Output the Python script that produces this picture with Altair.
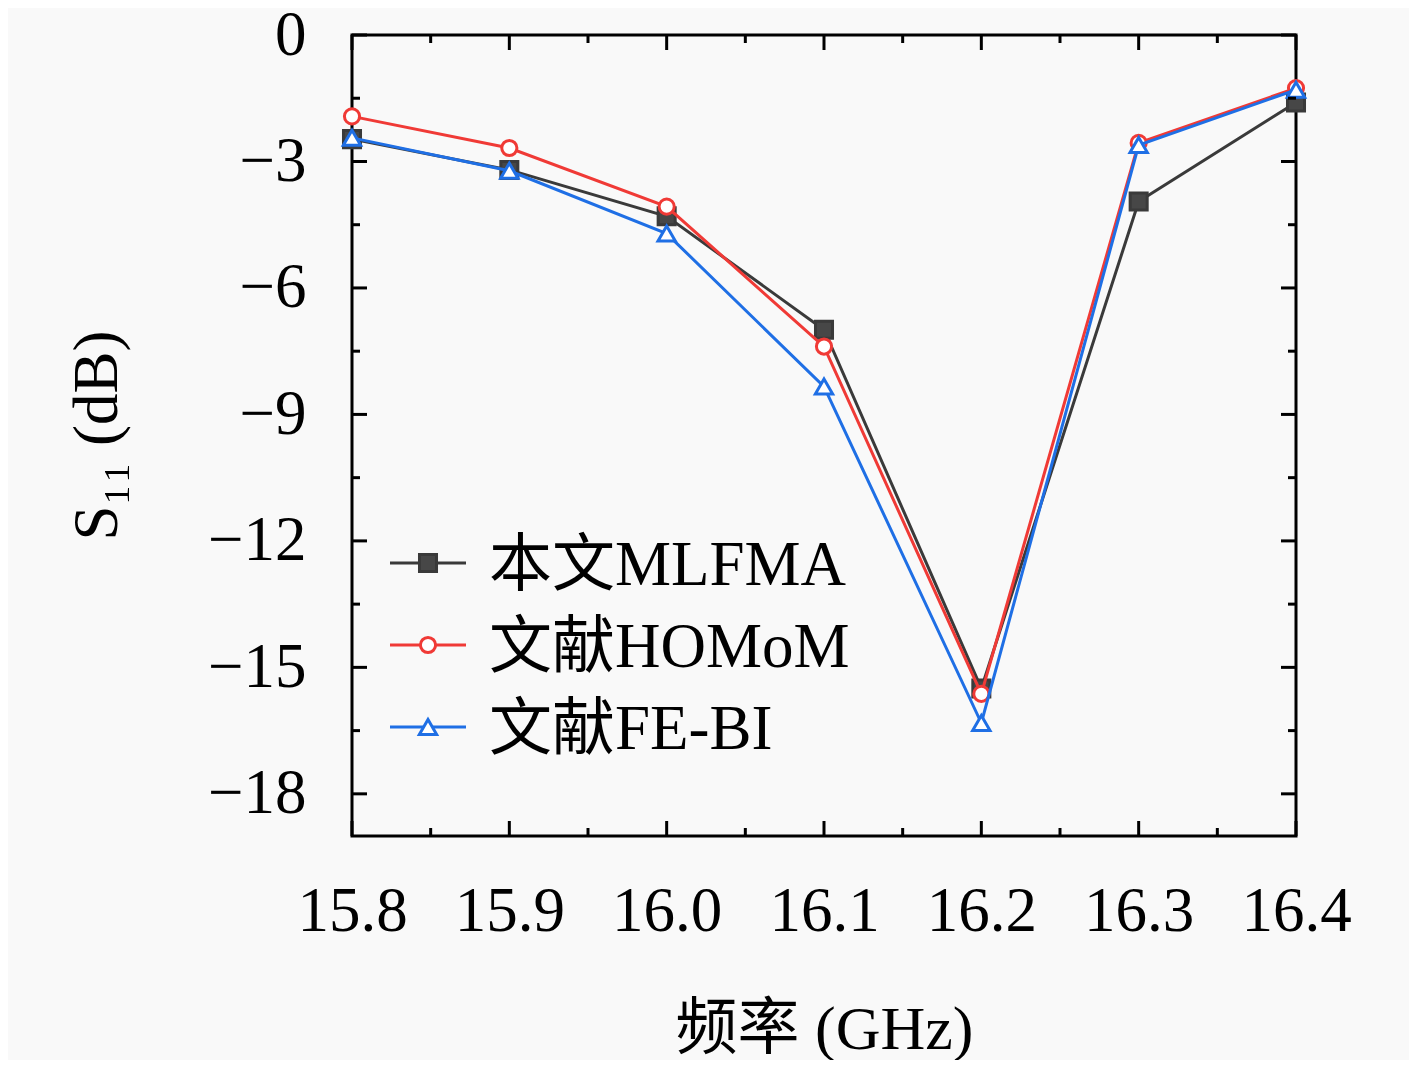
import altair as alt
import pandas as pd

freq = [15.8, 15.9, 16.0, 16.1, 16.2, 16.3, 16.4]
mlfma = [-2.47, -3.2, -4.3, -6.99, -15.5, -3.95, -1.6]
homom = [-1.93, -2.68, -4.07, -7.39, -15.63, -2.56, -1.26]
febi = [-2.44, -3.22, -4.71, -8.34, -16.32, -2.61, -1.3]
names = ["本文MLFMA", "文献HOMoM", "文献FE-BI"]
x_major = [15.8, 15.9, 16.0, 16.1, 16.2, 16.3, 16.4]
x_minor = [15.85, 15.95, 16.05, 16.15, 16.25, 16.35]
y_major = [0, -3, -6, -9, -12, -15, -18]
y_minor = [-1.5, -4.5, -7.5, -10.5, -13.5, -16.5]

W, H = 944, 801
FONT = "Liberation Serif, Noto Sans CJK SC"
colors = ["#3a3a3a", "#f03a36", "#1f6fe5"]
fills = ["#474747", "white", "white"]
shapes = ["square", "circle", "triangle-up"]
sizes = [290, 230, 300]

xs = alt.Scale(domain=[15.8, 16.4])
ys = alt.Scale(domain=[-19, 0])

xaxis = alt.Axis(values=x_major, format=".1f", tickSize=0, domain=False,
                 grid=False, labelPadding=44, labelFontSize=63,
                 labelFont=FONT, labelColor="black", labelOverlap=False,
                 labelFlush=False, labelBound=False,
                 titleFont=FONT, titleFontSize=62, titleFontWeight="normal",
                 titleColor="black", titleX=472, titleY=212,
                 titleBaseline="alphabetic")
yaxis = alt.Axis(values=y_major, tickSize=0, domain=False, grid=False,
                 labelPadding=46, labelFontSize=63, labelFont=FONT,
                 labelColor="black", labelOverlap=False, labelFlush=False,
                 labelBound=False,
                 titleFont=FONT, titleFontSize=63, titleFontWeight="normal",
                 titleColor="black", titleX=-236, titleY=400,
                 titleBaseline="alphabetic")

layers = []
for i, (nm, vals) in enumerate(zip(names, [mlfma, homom, febi])):
    df = pd.DataFrame({"f": freq, "s": vals})
    base = alt.Chart(df)
    if i == 0:
        xenc = alt.X("f:Q", scale=xs, title="频率 (GHz)", axis=xaxis)
        yenc = alt.Y("s:Q", scale=ys, title="S₁₁ (dB)", axis=yaxis)
    else:
        xenc = alt.X("f:Q", scale=xs, title="频率 (GHz)")
        yenc = alt.Y("s:Q", scale=ys, title="S₁₁ (dB)")
    layers.append(base.mark_line(color=colors[i], strokeWidth=3).encode(x=xenc, y=yenc))
    layers.append(base.mark_point(shape=shapes[i], size=sizes[i], filled=True,
                                  fill=fills[i], stroke=colors[i], strokeWidth=3,
                                  opacity=1).encode(
        x=alt.X("f:Q", scale=xs, title="频率 (GHz)"),
        y=alt.Y("s:Q", scale=ys, title="S₁₁ (dB)")))

# inward ticks on all four sides
def xticks(vals, ln):
    d = alt.Chart(pd.DataFrame({"t": vals}))
    return [
        d.mark_rule(color="black", strokeWidth=3).encode(
            x=alt.X("t:Q", scale=xs, title="频率 (GHz)"), y=alt.value(H), y2=alt.value(H - ln)),
        d.mark_rule(color="black", strokeWidth=3).encode(
            x=alt.X("t:Q", scale=xs, title="频率 (GHz)"), y=alt.value(0), y2=alt.value(ln)),
    ]

def yticks(vals, ln):
    d = alt.Chart(pd.DataFrame({"t": vals}))
    return [
        d.mark_rule(color="black", strokeWidth=3).encode(
            y=alt.Y("t:Q", scale=ys, title="S₁₁ (dB)"), x=alt.value(0), x2=alt.value(ln)),
        d.mark_rule(color="black", strokeWidth=3).encode(
            y=alt.Y("t:Q", scale=ys, title="S₁₁ (dB)"), x=alt.value(W), x2=alt.value(W - ln)),
    ]

ticks = xticks(x_major, 15) + xticks(x_minor, 8) + yticks(y_major, 15) + yticks(y_minor, 8)

# legend
leg = []
for i, nm in enumerate(names):
    cy = 528 + 82 * i
    d = alt.Chart(pd.DataFrame({"n": [nm]}))
    leg.append(d.mark_rule(color=colors[i], strokeWidth=3).encode(
        x=alt.value(38), x2=alt.value(114), y=alt.value(cy)))
    leg.append(d.mark_point(shape=shapes[i], size=sizes[i], filled=True, fill=fills[i],
                            stroke=colors[i], strokeWidth=3, opacity=1).encode(
        x=alt.value(76), y=alt.value(cy)))
    leg.append(d.mark_text(align="left", baseline="alphabetic", font=FONT, fontSize=63,
                           color="black").encode(
        x=alt.value(137), y=alt.value(cy + 22), text="n:N"))

chart = alt.layer(*layers, *ticks, *leg).properties(
    width=W, height=H,
    autosize=alt.AutoSizeParams(type="none"),
    padding={"left": 344, "top": 27, "right": 113, "bottom": 224},
    background="#f9f9f9",
).configure_view(stroke="black", strokeWidth=3)

chart.save("out.html", embed_options={"renderer": "svg", "actions": False})
